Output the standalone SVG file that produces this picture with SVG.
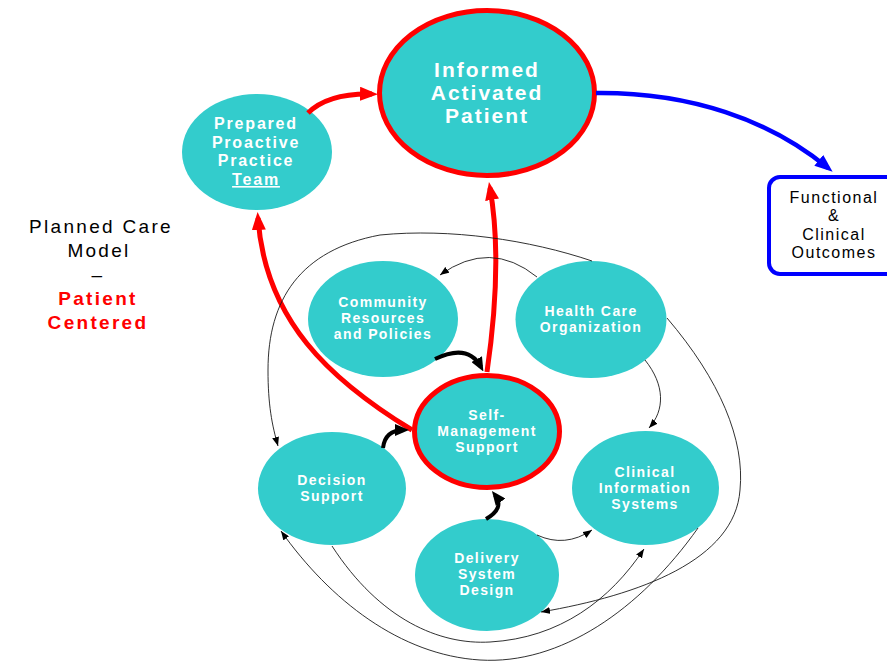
<svg xmlns="http://www.w3.org/2000/svg" width="887" height="661" viewBox="0 0 887 661">
<style>
.n{fill:#33CCCC;stroke:none}
.nr{fill:#33CCCC;stroke:#FF0000;stroke-width:5}
.t{font-family:"Liberation Sans",Arial,sans-serif;font-weight:bold;fill:#fff;text-anchor:middle;font-size:14px;letter-spacing:1.4px}
.tb{font-size:21px;letter-spacing:2px}
.tm{font-size:16px;letter-spacing:1.8px}
.o{font-family:"Liberation Sans",Arial,sans-serif;fill:#000;text-anchor:middle;font-size:16px;letter-spacing:1.5px}
.l{font-family:"Liberation Sans",Arial,sans-serif;text-anchor:middle;font-size:19px;letter-spacing:2.3px}
.red{fill:none;stroke:#FF0000;stroke-width:5}
.blue{fill:none;stroke:#0000FF;stroke-width:4.5}
.blk{fill:none;stroke:#000;stroke-width:4}
.thin{fill:none;stroke:#1a1a1a;stroke-width:0.9}
</style>
<defs>
<marker id="mr" viewBox="0 0 18 14" refX="12" refY="7" markerWidth="18" markerHeight="14" orient="auto" markerUnits="userSpaceOnUse"><path d="M0,0 L18,7 L0,14 z" fill="#FF0000"/></marker>
<marker id="mb" viewBox="0 0 18 14" refX="12" refY="7" markerWidth="18" markerHeight="14" orient="auto" markerUnits="userSpaceOnUse"><path d="M0,0 L18,7 L0,14 z" fill="#0000FF"/></marker>
<marker id="mk" viewBox="0 0 14 12" refX="9" refY="6" markerWidth="14" markerHeight="12" orient="auto" markerUnits="userSpaceOnUse"><path d="M0,0 L14,6 L0,12 z" fill="#000"/></marker>
<marker id="mt" viewBox="0 0 9 7" refX="9" refY="3.5" markerWidth="9" markerHeight="7" orient="auto" markerUnits="userSpaceOnUse"><path d="M0,0 L9,3.5 L0,7 z" fill="#000"/></marker>
</defs>

<g id="title">
<text class="l" x="101" y="233" fill="#000">Planned Care</text>
<text class="l" x="99" y="257" fill="#000">Model</text>
<text class="l" x="98" y="281" fill="#000">–</text>
<text class="l" x="98" y="305" fill="#FF0000" font-weight="bold">Patient</text>
<text class="l" x="98" y="329" fill="#FF0000" font-weight="bold">Centered</text>
</g>

<g id="informed">
<ellipse class="nr" cx="487" cy="93" rx="107.5" ry="82.5"/>
<text class="t tb" x="487" y="77">Informed</text>
<text class="t tb" x="487" y="100">Activated</text>
<text class="t tb" x="487" y="123">Patient</text>
</g>

<g id="prepared">
<ellipse class="n" cx="257" cy="152" rx="75" ry="58"/>
<text class="t tm" x="256" y="129">Prepared</text>
<text class="t tm" x="256" y="147.5">Proactive</text>
<text class="t tm" x="256" y="166">Practice</text>
<text class="t tm" x="256" y="185" text-decoration="underline">Team</text>
</g>

<g id="outcomes">
<rect x="769" y="177" width="130" height="97" rx="11" fill="#fff" stroke="#0000FF" stroke-width="4"/>
<text class="o" x="834" y="203">Functional</text>
<text class="o" x="834" y="221">&amp;</text>
<text class="o" x="834" y="240">Clinical</text>
<text class="o" x="834" y="258">Outcomes</text>
</g>

<g id="community">
<ellipse class="n" cx="383" cy="319" rx="75" ry="58"/>
<text class="t" x="383" y="307">Community</text>
<text class="t" x="383" y="323">Resources</text>
<text class="t" x="383" y="339">and Policies</text>
</g>

<g id="hco">
<ellipse class="n" cx="591" cy="319.5" rx="75.5" ry="58.5"/>
<text class="t" x="591" y="315.5">Health Care</text>
<text class="t" x="591" y="331.5">Organization</text>
</g>

<g id="selfmgmt">
<ellipse class="nr" cx="487" cy="431.5" rx="72.5" ry="56"/>
<text class="t" x="487" y="420">Self-</text>
<text class="t" x="487" y="436">Management</text>
<text class="t" x="487" y="452">Support</text>
</g>

<g id="decision">
<ellipse class="n" cx="332" cy="488.5" rx="74" ry="56.5"/>
<text class="t" x="332" y="485">Decision</text>
<text class="t" x="332" y="501">Support</text>
</g>

<g id="clinical">
<ellipse class="n" cx="645.5" cy="488" rx="73.5" ry="57"/>
<text class="t" x="645" y="477">Clinical</text>
<text class="t" x="645" y="493">Information</text>
<text class="t" x="645" y="509">Systems</text>
</g>

<g id="delivery">
<ellipse class="n" cx="487" cy="575" rx="72" ry="56"/>
<text class="t" x="487" y="563">Delivery</text>
<text class="t" x="487" y="579">System</text>
<text class="t" x="487" y="595">Design</text>
</g>

<g id="connectors">
<path class="red" d="M 308 113 Q 328 93 372 94" marker-end="url(#mr)"/>
<path class="red" d="M 487 372 Q 503 262 490 188" marker-end="url(#mr)"/>
<path class="red" d="M 412 430 C 330 380 265 320 258 218" marker-end="url(#mr)"/>
<path class="blue" d="M 596 93 C 690 92 770 120 828 168" marker-end="url(#mb)"/>
<path class="blk" d="M 435 359 Q 468 343 481 367" marker-end="url(#mk)"/>
<path class="blk" d="M 383 448 Q 385 430 404 430" marker-end="url(#mk)"/>
<path class="blk" d="M 486 519 Q 505 508 495 495" marker-end="url(#mk)"/>
<path class="thin" d="M 537 277 Q 490 239 440 275" marker-end="url(#mt)"/>
<path class="thin" d="M 592 261 C 530 240 450 228 380 235 C 300 250 268 300 268 370 C 268 405 272 425 278 446" marker-end="url(#mt)"/>
<path class="thin" d="M 645 360 C 665 385 665 410 649 428" marker-end="url(#mt)"/>
<path class="thin" d="M 667 318 C 720 380 745 440 740 490 C 735 560 640 595 541 612" marker-end="url(#mt)"/>
<path class="thin" d="M 698 528 C 640 610 560 665 480 660 C 400 655 330 600 281 531" marker-end="url(#mt)"/>
<path class="thin" d="M 332 546 C 380 620 440 645 490 642 C 560 638 610 600 644 549" marker-end="url(#mt)"/>
<path class="thin" d="M 537 535 Q 565 548 592 530" marker-end="url(#mt)"/>
</g>
</svg>
